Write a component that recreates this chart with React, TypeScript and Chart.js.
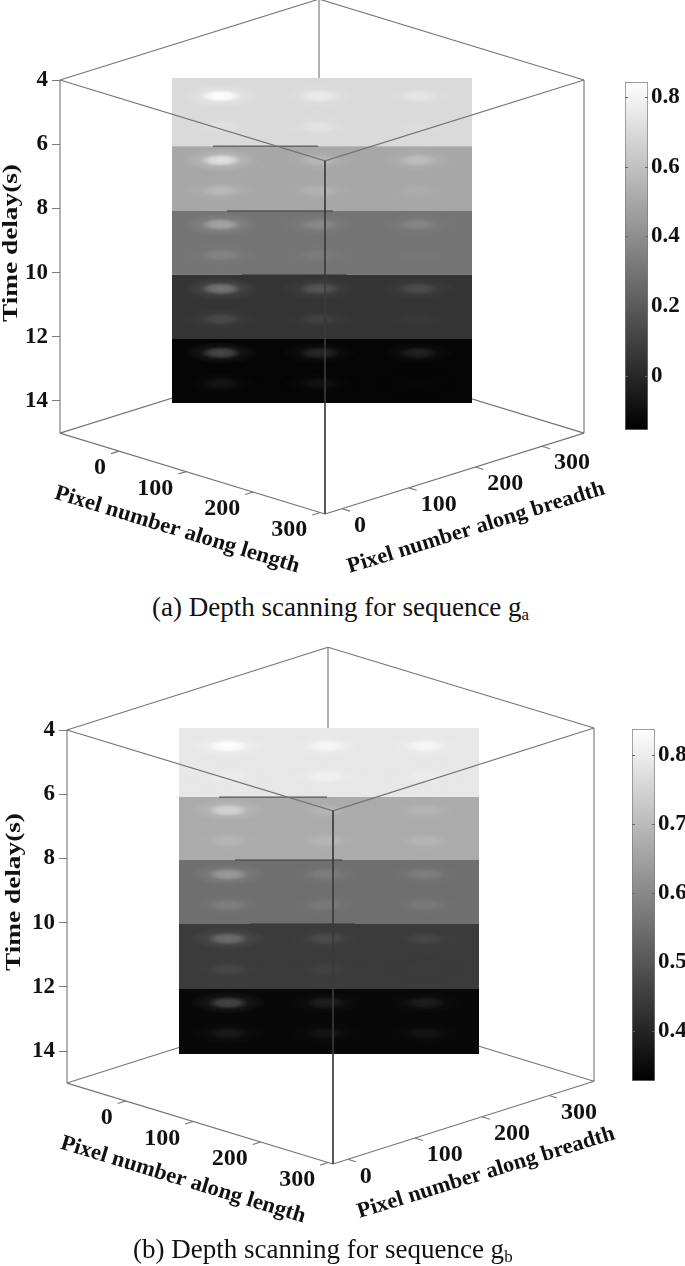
import { useEffect, useRef } from 'react';
import { Chart, registerables } from 'chart.js';

Chart.register(...registerables);

const FONT = '"Liberation Serif", "Times New Roman", serif';

const timeTicks = [4, 6, 8, 10, 12, 14];
const timeRange = [4, 15];
const pixelTicks = [0, 100, 200, 300];
const blobColumns = [49, 147, 246];
const blobRowOffsets = [0.5, 1.45];

// Panel (a)
const sliceEdgesA = [3.94, 6.06, 8.08, 10.07, 12.07, 14.06];
const sliceValuesA = [0.7, 0.5, 0.3, 0.05, -0.135];
const blobPeaksA = [
  [0.84, 0.77, 0.74, 0.72, 0.73, 0.71],
  [0.73, 0.56, 0.59, 0.57, 0.54, 0.52],
  [0.49, 0.38, 0.37, 0.36, 0.33, 0.31],
  [0.31, 0.18, 0.15, 0.14, 0.1, 0.07],
  [0.13, 0.0, -0.02, -0.07, -0.08, -0.12],
];
const colorRangeA = [-0.155, 0.843];
const colorTicksA = [0, 0.2, 0.4, 0.6, 0.8];
const lengthRangeA = [-88, 307];
const breadthRangeA = [-25.5, 363];
const seamsA = [
  [41, 146],
  [55, 161],
  [70, 175],
];

// Panel (b)
const sliceEdgesB = [3.94, 6.09, 8.05, 10.04, 12.07, 14.09];
const sliceValuesB = [0.79, 0.67, 0.55, 0.445, 0.344];
const blobPeaksB = [
  [0.838, 0.82, 0.82, 0.8, 0.81, 0.8],
  [0.75, 0.69, 0.69, 0.69, 0.69, 0.69],
  [0.64, 0.58, 0.58, 0.58, 0.57, 0.57],
  [0.55, 0.48, 0.47, 0.47, 0.46, 0.45],
  [0.47, 0.39, 0.39, 0.38, 0.37, 0.37],
];
const colorRangeB = [0.328, 0.838];
const colorTicksB = [0.4, 0.5, 0.6, 0.7, 0.8];
const lengthRangeB = [-87, 307];
const breadthRangeB = [-22, 367];
const seamsB = [
  [40, 148],
  [56, 163],
  [71, 176],
];

type Layout = {
  top: number; height: number; axisX: number; sliceX: number; y4: number;
  left: number[]; front: number[]; right: number[];
  timeTitle: number[]; lengthTitle: number[]; breadthTitle: number[];
  barTop: number; barBottom: number; barLeft: number;
  caption: string; sub: string; captionX: number; captionY: number;
};

const PX_PER_TIME = 32.1;
const SLICE_WIDTH = 300;

const layoutA: Layout = {
  top: 0, height: 590, axisX: 60, sliceX: 172, y4: 80,
  left: [-112, 0], front: [153, 2.52], right: [412, 0],
  timeTitle: [11, 243], lengthTitle: [177, 530], breadthTitle: [476, 528],
  barTop: 82, barBottom: 430, barLeft: 625,
  caption: '(a) Depth scanning for sequence g', sub: 'a', captionX: 152, captionY: 593,
};
const layoutB: Layout = {
  top: 640, height: 595, axisX: 67, sliceX: 179, y4: 90,
  left: [-112, 0], front: [154, 2.52], right: [415, -0.06],
  timeTitle: [14, 252], lengthTitle: [183, 540], breadthTitle: [486, 533],
  barTop: 89, barBottom: 441, barLeft: 632,
  caption: '(b) Depth scanning for sequence g', sub: 'b', captionX: 133, captionY: 1235,
};

function grayOf(value: number, range: number[]) {
  const g = Math.round(Math.max(0, Math.min(1, (value - range[0]) / (range[1] - range[0]))) * 255);
  return g;
}

function makeSprite(g: number) {
  const c = document.createElement('canvas');
  c.width = 80;
  c.height = 28;
  const x = c.getContext('2d')!;
  x.translate(40, 14);
  x.scale(1, 0.3);
  const r = x.createRadialGradient(0, 0, 0, 0, 0, 40);
  r.addColorStop(0, `rgba(${g},${g},${g},1)`);
  r.addColorStop(0.28, `rgba(${g},${g},${g},0.82)`);
  r.addColorStop(0.52, `rgba(${g},${g},${g},0.22)`);
  r.addColorStop(1, `rgba(${g},${g},${g},0)`);
  x.fillStyle = r;
  x.beginPath();
  x.arc(0, 0, 40, 0, Math.PI * 2);
  x.fill();
  return c;
}

function makeProjector(l: Layout, lengthRange: number[], breadthRange: number[]) {
  return (len: number, br: number, t: number) => {
    const u = (len - lengthRange[0]) / (lengthRange[1] - lengthRange[0]);
    const v = (br - breadthRange[0]) / (breadthRange[1] - breadthRange[0]);
    return {
      x: l.left[0] + u * (l.front[0] - l.left[0]) + v * (l.right[0] - l.front[0]),
      y: t + l.left[1] + u * (l.front[1] - l.left[1]) + v * (l.right[1] - l.front[1]),
    };
  };
}

function buildMain(
  canvas: HTMLCanvasElement, l: Layout, edges: number[], values: number[], peaks: number[][],
  range: number[], lengthRange: number[], breadthRange: number[], seams: number[][],
) {
  const P = makeProjector(l, lengthRange, breadthRange);
  const [l0, l1] = lengthRange;
  const [b0, b1] = breadthRange;
  const [t0, t1] = timeRange;
  const seg = (a: { x: number; y: number }, b: { x: number; y: number }, order: number, color = '#747474', width = 1.1) => ({
    data: [a, b], showLine: true, pointRadius: 0, borderColor: color, borderWidth: width, clip: false, order,
  });
  const datasets: any[] = [];
  // hidden rear edges
  datasets.push(seg(P(l0, b1, t0), P(l0, b1, t1), 5));
  datasets.push(seg(P(l0, b0, t1), P(l0, b1, t1), 5));
  datasets.push(seg(P(l0, b1, t1), P(l1, b1, t1), 5));
  datasets.push(seg(P(l0, b0, t0), P(l0, b1, t0), 5));
  datasets.push(seg(P(l0, b1, t0), P(l1, b1, t0), 5));
  // depth slices
  values.forEach((v, i) => {
    const g = grayOf(v, range);
    datasets.push({
      data: [{ x: 0, y: edges[i] }, { x: SLICE_WIDTH, y: edges[i] }],
      showLine: true, pointRadius: 0, borderWidth: 0, borderColor: 'transparent',
      backgroundColor: `rgb(${g},${g},${g})`,
      fill: { value: edges[i + 1] }, order: 4 - i * 0.01,
    });
  });
  // bright spots
  const blobData: { x: number; y: number }[] = [];
  const sprites: HTMLCanvasElement[] = [];
  peaks.forEach((row, i) => {
    row.forEach((p, j) => {
      blobData.push({
        x: blobColumns[j % 3],
        y: timeTicks[i] + blobRowOffsets[j < 3 ? 0 : 1],
      });
      sprites.push(makeSprite(grayOf(p, range)));
    });
  });
  datasets.push({
    data: blobData, pointRadius: 10, pointBorderWidth: 0,
    pointStyle: (c: any) => sprites[c.dataIndex], order: 3,
  });
  // seams between slices
  seams.forEach((s, i) => {
    datasets.push(seg({ x: s[0], y: edges[i + 1] }, { x: s[1], y: edges[i + 1] }, 2, '#3c3c3c', 1));
  });
  // front edges
  datasets.push(seg(P(l0, b0, t0), P(l0, b0, t1), 1));
  datasets.push(seg(P(l1, b1, t0), P(l1, b1, t1), 1));
  datasets.push(seg(P(l1, b0, t0), P(l1, b0, t1), 1, '#3a3a3a', 0.9));
  datasets.push(seg(P(l0, b0, t0), P(l1, b0, t0), 1));
  datasets.push(seg(P(l1, b1, t0), P(l1, b0, t0), 1));
  datasets.push(seg(P(l0, b0, t1), P(l1, b0, t1), 1));
  datasets.push(seg(P(l1, b0, t1), P(l1, b1, t1), 1));
  // ticks on the two floor axes
  pixelTicks.forEach((v) => {
    datasets.push(seg(P(v, b0, t1), P(v, b0 - 12, t1), 1));
    datasets.push(seg(P(l1, v, t1), P(l1 + 12, v, t1), 1));
  });

  const xMin = l.sliceX * -1 + l.axisX;
  const yMin = 4 - l.y4 / PX_PER_TIME;

  const textPlugin = {
    id: 'cubeText',
    afterDatasetsDraw(chart: any) {
      const c = chart.ctx;
      const xs = chart.scales.x;
      const ys = chart.scales.y;
      c.save();
      c.fillStyle = '#111';
      c.font = `bold 24px ${FONT}`;
      c.textBaseline = 'middle';
      pixelTicks.forEach((v) => {
        const a = P(v, b0, t1);
        c.textAlign = 'right';
        c.fillText(String(v), xs.getPixelForValue(a.x) - 13, ys.getPixelForValue(a.y) + 17);
        const b = P(l1, v, t1);
        c.textAlign = 'left';
        c.fillText(String(v), xs.getPixelForValue(b.x) + 12, ys.getPixelForValue(b.y) + 17);
      });
      c.textAlign = 'center';
      const rot = (text: string, pos: number[], angle: number, size: number, stretch: number) => {
        c.save();
        c.font = `bold ${size}px ${FONT}`;
        c.translate(pos[0], pos[1]);
        c.rotate(angle);
        c.scale(stretch, 1);
        c.fillText(text, 0, 0);
        c.restore();
      };
      rot('Time delay(s)', l.timeTitle, -Math.PI / 2, 22, 1.24);
      rot('Pixel number along length', l.lengthTitle, (17 * Math.PI) / 180, 22, 1.03);
      rot('Pixel number along breadth', l.breadthTitle, (-17.2 * Math.PI) / 180, 22, 1.02);
      c.restore();
    },
  };

  return new Chart(canvas, {
    type: 'scatter',
    data: { datasets },
    plugins: [textPlugin],
    options: {
      animation: false,
      responsive: false,
      devicePixelRatio: 1,
      events: [],
      layout: { padding: 0, autoPadding: false },
      plugins: { legend: { display: false }, tooltip: { enabled: false }, title: { display: false } },
      scales: {
        x: { type: 'linear', display: false, min: xMin, max: xMin + (685 - l.axisX) },
        y: {
          type: 'linear',
          reverse: true,
          min: yMin,
          max: yMin + l.height / PX_PER_TIME,
          afterBuildTicks: (s: any) => { s.ticks = timeTicks.map((value) => ({ value })); },
          afterFit: (s: any) => { s.width = l.axisX; s.paddingTop = 0; s.paddingBottom = 0; },
          border: { display: false },
          grid: { drawOnChartArea: false, drawTicks: true, tickLength: 8, color: '#7a7a7a', lineWidth: 1 },
          ticks: {
            padding: 4, color: '#111', autoSkip: false,
            font: { family: FONT, size: 23, weight: 'bold' },
            callback: (v: any) => String(v),
          },
        },
      },
    } as any,
  });
}

function buildBar(canvas: HTMLCanvasElement, l: Layout, range: number[], ticks: number[], canvasLeft: number, canvasTop: number, w: number, h: number) {
  const barTicks = {
    id: 'barTicks',
    afterDatasetsDraw(chart: any) {
      const c = chart.ctx;
      const a = chart.chartArea;
      const ys = chart.scales.y;
      c.save();
      c.strokeStyle = '#666';
      c.lineWidth = 1;
      ticks.forEach((v) => {
        const y = Math.round(ys.getPixelForValue(v)) + 0.5;
        c.beginPath();
        c.moveTo(a.left, y);
        c.lineTo(a.left + 3, y);
        c.moveTo(a.right - 3, y);
        c.lineTo(a.right, y);
        c.stroke();
      });
      c.restore();
    },
  };
  return new Chart(canvas, {
    type: 'bar',
    data: {
      labels: ['value'],
      datasets: [{
        data: [range],
        barPercentage: 1,
        categoryPercentage: 1,
        borderColor: '#7a7a7a',
        borderWidth: 1,
        borderSkipped: false,
        backgroundColor: (ctx: any) => {
          const a = ctx.chart.chartArea;
          if (!a) return '#888';
          const g = ctx.chart.ctx.createLinearGradient(0, a.top, 0, a.bottom);
          g.addColorStop(0, '#ffffff');
          g.addColorStop(1, '#000000');
          return g;
        },
      }],
    },
    plugins: [barTicks],
    options: {
      animation: false,
      responsive: false,
      devicePixelRatio: 1,
      events: [],
      layout: {
        autoPadding: false,
        padding: {
          left: l.barLeft - canvasLeft,
          top: l.top + l.barTop - canvasTop,
          bottom: canvasTop + h - (l.top + l.barBottom),
          right: 0,
        },
      },
      plugins: { legend: { display: false }, tooltip: { enabled: false } },
      scales: {
        x: { display: false },
        y: {
          position: 'right',
          min: range[0],
          max: range[1],
          afterBuildTicks: (s: any) => { s.ticks = ticks.map((value) => ({ value })); },
          afterFit: (s: any) => {
            s.width = canvasLeft + w - (l.barLeft + 23);
            s.paddingTop = 0;
            s.paddingBottom = 0;
          },
          border: { display: false },
          grid: { drawOnChartArea: false, drawTicks: false },
          ticks: {
            padding: 3, color: '#111', autoSkip: false,
            font: { family: FONT, size: 23, weight: 'bold' },
            callback: (v: any) => (v === 0 ? '0' : Number(v).toFixed(1)),
          },
        },
      },
    } as any,
  });
}

function Panel(props: {
  l: Layout; edges: number[]; values: number[]; peaks: number[][]; range: number[];
  lengthRange: number[]; breadthRange: number[]; seams: number[][]; ticks: number[];
}) {
  const { l } = props;
  const mainRef = useRef<HTMLCanvasElement>(null);
  const barRef = useRef<HTMLCanvasElement>(null);
  const barLeft = 600;
  const barW = 85;
  const barTop = l.top + l.barTop - 30;
  const barH = l.barBottom - l.barTop + 60;

  useEffect(() => {
    const main = buildMain(mainRef.current!, l, props.edges, props.values, props.peaks, props.range, props.lengthRange, props.breadthRange, props.seams);
    const bar = buildBar(barRef.current!, l, props.range, props.ticks, barLeft, barTop, barW, barH);
    return () => {
      main.destroy();
      bar.destroy();
    };
  }, []);

  return (
    <>
      <canvas ref={mainRef} width={685} height={l.height} style={{ position: 'absolute', left: 0, top: l.top, width: 685, height: l.height }} />
      <canvas ref={barRef} width={barW} height={barH} style={{ position: 'absolute', left: barLeft, top: barTop, width: barW, height: barH }} />
      <div style={{ position: 'absolute', left: l.captionX, top: l.captionY, fontFamily: FONT, fontSize: 27, lineHeight: '28px', color: '#111', whiteSpace: 'nowrap' }}>
        {l.caption}
        <span style={{ fontSize: 17, position: 'relative', top: 4 }}>{l.sub}</span>
      </div>
    </>
  );
}

export default function App() {
  return (
    <div style={{ position: 'absolute', left: 0, top: 0, width: 685, height: 1266, overflow: 'hidden', background: '#fff', filter: 'blur(0.45px)' }}>
      <Panel l={layoutA} edges={sliceEdgesA} values={sliceValuesA} peaks={blobPeaksA} range={colorRangeA} lengthRange={lengthRangeA} breadthRange={breadthRangeA} seams={seamsA} ticks={colorTicksA} />
      <Panel l={layoutB} edges={sliceEdgesB} values={sliceValuesB} peaks={blobPeaksB} range={colorRangeB} lengthRange={lengthRangeB} breadthRange={breadthRangeB} seams={seamsB} ticks={colorTicksB} />
    </div>
  );
}
